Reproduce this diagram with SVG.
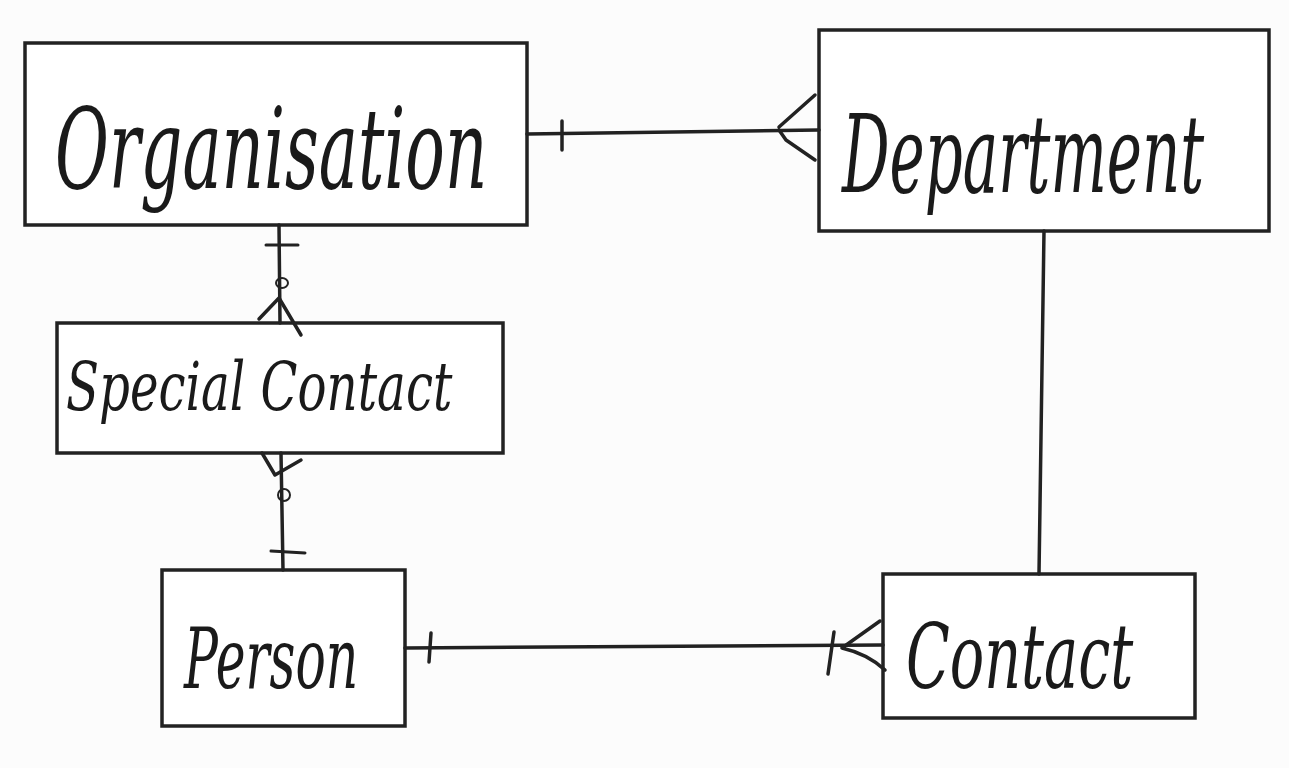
<svg xmlns="http://www.w3.org/2000/svg" width="1289" height="768" viewBox="0 0 1289 768">
<style>
.box{fill:#fff;stroke:#222;stroke-width:3.5}
.lbl{font-family:"DejaVu Serif","Liberation Serif",serif;font-style:italic;fill:#1a1a1a}
.c{fill:none;stroke:#222;stroke-width:3.5;stroke-linecap:round;stroke-linejoin:round}
.t{fill:none;stroke:#222;stroke-width:2;stroke-linecap:round}
</style>
<rect width="1289" height="768" fill="#fcfcfc"/>
<g id="organisation">
<rect class="box" x="25" y="43" width="502" height="182"/>
<text class="lbl" transform="translate(55,188) scale(0.587,1)" font-size="112">Organisation</text>
</g>
<g id="department">
<rect class="box" x="819" y="30" width="450" height="201"/>
<text class="lbl" transform="translate(842,192) scale(0.55,1)" font-size="108">Department</text>
</g>
<g id="special-contact">
<rect class="box" x="57" y="323" width="446" height="130"/>
<text class="lbl" transform="translate(66,410) scale(0.71,1)" font-size="68">Special Contact</text>
</g>
<g id="person">
<rect class="box" x="162" y="570" width="243" height="156"/>
<text class="lbl" transform="translate(184,688) scale(0.6,1)" font-size="84">Person</text>
</g>
<g id="contact">
<rect class="box" x="883" y="574" width="312" height="144"/>
<text class="lbl" transform="translate(906,688) scale(0.636,1)" font-size="90">Contact</text>
</g>
<g id="connectors">
<path class="c" d="M527 134 L819 130"/>
<path class="c" d="M562 121 L562 150"/>
<path class="c" d="M815 95 L779 127 M779 130 L786 140 L815 160"/>
<path class="c" d="M279 225 L280 323"/>
<path class="t" d="M266 245 L298 245" style="stroke-width:3"/>
<ellipse class="t" cx="282" cy="283" rx="6" ry="5"/>
<path class="c" d="M279 298 L259 319 M279 298 L301 335"/>
<path class="c" d="M281 453 L283 570"/>
<path class="c" d="M262 453 L275 475 L301 460"/>
<ellipse class="t" cx="284" cy="495" rx="6" ry="6"/>
<path class="t" d="M271 551 L305 553" style="stroke-width:3"/>
<path class="c" d="M405 648 L883 645"/>
<path class="c" d="M431 633 L429 662"/>
<path class="c" d="M834 632 L828 674"/>
<path class="c" d="M880 621 L842 648 M842 648 Q868 654 885 670"/>
<path class="c" d="M1044 231 L1039 574"/>
</g>
</svg>
